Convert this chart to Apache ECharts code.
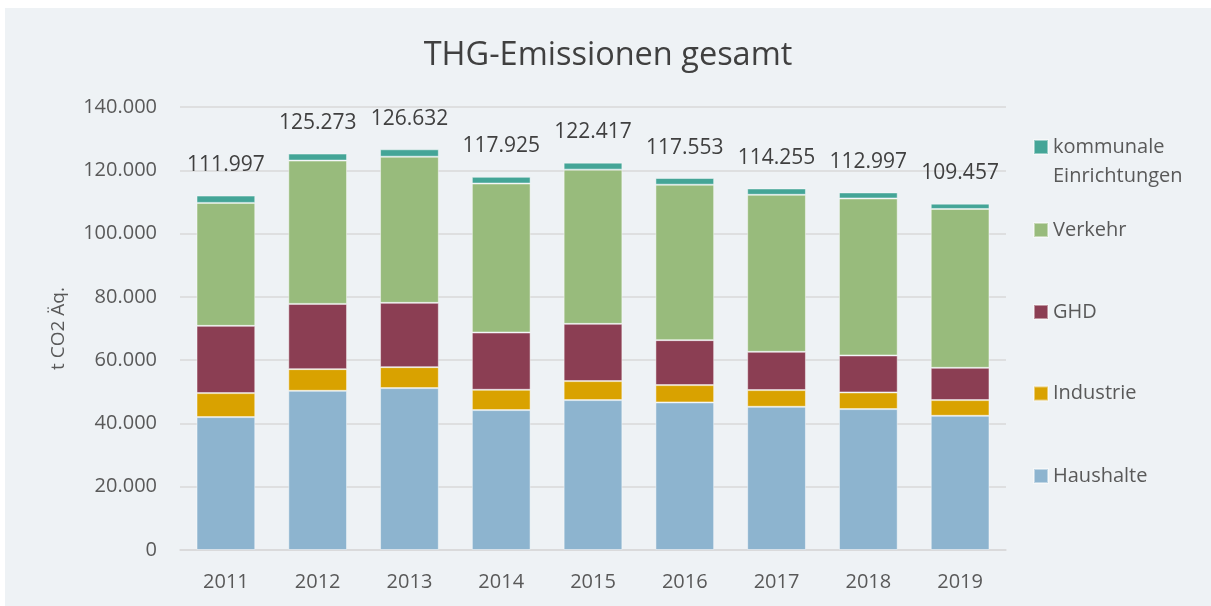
<!DOCTYPE html>
<html>
<head>
<meta charset="utf-8">
<script src="https://cdn.jsdelivr.net/npm/echarts@6/dist/echarts.min.js"></script>
<style>
  html, body { margin: 0; padding: 0; background: #fff; }
  #chart { position: absolute; left: 5px; top: 8px; width: 1206px; height: 598px; }
</style>
</head>
<body>
<div id="chart"></div>
<script>
const years = ['2011', '2012', '2013', '2014', '2015', '2016', '2017', '2018', '2019']

// t CO2 Äq. per sector
const haushalte = [42000, 50310, 51160, 44210, 47370, 46640, 45260, 44530, 42410]
const industrie = [7580, 6850, 6630, 6420, 6000, 5470, 5270, 5270, 4960]
const ghd = [21250, 20620, 20310, 18100, 18100, 14210, 12100, 11680, 10200]
const verkehr = [38867, 45283, 46192, 47085, 48737, 49123, 49625, 49617, 50207]
const kommunal = [2300, 2210, 2340, 2110, 2210, 2110, 2000, 1900, 1680]
const totals = [111997, 125273, 126632, 117925, 122417, 117553, 114255, 112997, 109457]

const colors = {
  haushalte: '#8DB4CF',
  industrie: '#D9A200',
  ghd: '#8B3E53',
  verkehr: '#98BB7C',
  kommunal: '#44A597'
}

const fontFamily = '"Open Sans", "DejaVu Sans", sans-serif'
const fmt = v => String(v).replace(/\B(?=(\d{3})+(?!\d))/g, '.')

const chart = echarts.init(document.getElementById('chart'))

const barStyle = color => ({
  color,
  borderColor: 'rgba(255,255,255,0.45)',
  borderWidth: 1
})

const makeSeries = (name, data, color) => ({
  name,
  type: 'bar',
  stack: 'total',
  barCategoryGap: '36%',
  data,
  itemStyle: barStyle(color),
  emphasis: { disabled: true }
})

const legendText = {
  color: '#595959',
  fontSize: 20,
  fontFamily,
  lineHeight: 14
}

const singleLegend = (name, top) => ({
  data: [name],
  orient: 'vertical',
  left: 1028,
  top,
  padding: 0,
  itemWidth: 14,
  itemHeight: 14,
  itemGap: 0,
  icon: 'rect',
  selectedMode: false,
  textStyle: legendText
})

const kommunalSeries = makeSeries('kommunale Einrichtungen', kommunal, colors.kommunal)
kommunalSeries.label = {
  show: true,
  position: 'top',
  distance: 20,
  fontSize: 21,
  fontFamily,
  color: '#404040',
  formatter: p => fmt(totals[p.dataIndex])
}

chart.setOption({
  backgroundColor: '#EEF2F5',
  animation: false,
  title: {
    text: 'THG-Emissionen gesamt',
    left: 'center',
    top: 26,
    textStyle: {
      fontSize: 32.5,
      fontWeight: 'normal',
      color: '#404040',
      fontFamily
    }
  },
  grid: {
    left: 175,
    right: 205,
    top: 99,
    bottom: 56
  },
  legend: [
    Object.assign(singleLegend('kommunale Einrichtungen', 95.5), {
      // empty first line keeps the icon level with "kommunale"
      formatter: () => '\nkommunale\nEinrichtungen',
      textStyle: Object.assign({}, legendText, { lineHeight: 29 })
    }),
    singleLegend('Verkehr', 212),
    singleLegend('GHD', 294),
    singleLegend('Industrie', 375.5),
    singleLegend('Haushalte', 458)
  ],
  xAxis: {
    type: 'category',
    data: years,
    axisLine: { lineStyle: { color: '#D9D9D9', width: 1.5 } },
    axisTick: { show: false },
    axisLabel: {
      fontSize: 20,
      fontFamily,
      color: '#595959',
      margin: 22
    }
  },
  yAxis: {
    type: 'value',
    min: 0,
    max: 140000,
    interval: 20000,
    name: 't CO2 Äq.',
    nameLocation: 'middle',
    nameGap: 112,
    nameTextStyle: {
      fontSize: 19,
      fontFamily,
      color: '#595959'
    },
    axisLine: { show: false },
    axisTick: { show: false },
    axisLabel: {
      fontSize: 20,
      fontFamily,
      color: '#595959',
      margin: 23,
      formatter: v => fmt(v)
    },
    splitLine: {
      lineStyle: { color: '#D9D9D9', width: 1.5 }
    }
  },
  series: [
    makeSeries('Haushalte', haushalte, colors.haushalte),
    makeSeries('Industrie', industrie, colors.industrie),
    makeSeries('GHD', ghd, colors.ghd),
    makeSeries('Verkehr', verkehr, colors.verkehr),
    kommunalSeries
  ]
})
</script>
</body>
</html>
